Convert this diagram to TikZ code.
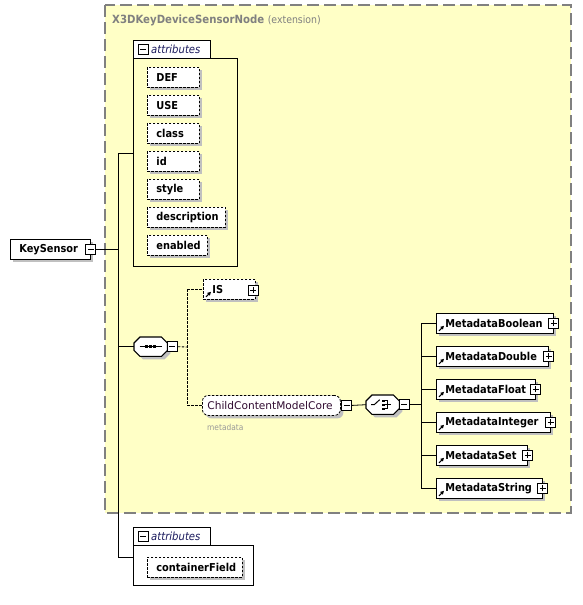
\documentclass[tikz,border=0pt]{standalone}
\usepackage{fontspec}
\setmainfont{DejaVu Sans Condensed}
\newfontfamily\xswide{DejaVu Sans}
\usetikzlibrary{shadows,arrows.meta}

\definecolor{extfill}{HTML}{FFFFC6}
\definecolor{extline}{HTML}{808080}
\definecolor{shadowc}{HTML}{C0C0C0}
\definecolor{navyc}{HTML}{1B1B5E}
\definecolor{grpc}{HTML}{300A30}
\definecolor{graytxt}{HTML}{999999}

\newcommand\xsOct[1]{%
  \fill[shadowc] ([shift={(9,3)}]#1.north west) -- ([shift={(-3,3)}]#1.north east) -- ([shift={(3,9)}]#1.north east) -- ([shift={(3,-3)}]#1.south east) -- ([shift={(-3,3)}]#1.south east) -- ([shift={(9,3)}]#1.south west) -- ([shift={(3,-3)}]#1.south west) -- ([shift={(3,9)}]#1.north west) -- cycle;
  \draw[line width=1.1pt, fill=white] ([shift={(6,0)}]#1.north west) -- ([shift={(-6,0)}]#1.north east) -- ([shift={(0,6)}]#1.north east) -- ([shift={(0,-6)}]#1.south east) -- ([shift={(-6,0)}]#1.south east) -- ([shift={(6,0)}]#1.south west) -- ([shift={(0,-6)}]#1.south west) -- ([shift={(0,6)}]#1.north west) -- cycle;}

\newcommand\xsRef[1]{%
  \draw[line width=1pt, -{Triangle[length=3.5pt,width=3.5pt]}] ([shift={(3,-3)}]#1.south west) -- ++(5,-5);}

\tikzset{
  x=1pt, y=-1pt,
  lbl/.style={font=\fontsize{10.9}{13}\selectfont},
  shad/.style={general shadow={fill=shadowc, shadow xshift=3pt, shadow yshift=-3pt}},
  elem/.style={draw, line width=0.8pt, fill=white, shad, anchor=north west,
    minimum height=20pt, inner ysep=0pt, inner xsep=9pt, align=left,
    font=\fontsize{10.9}{13}\selectfont\bfseries},
  attr/.style={elem, dash pattern=on 2.5pt off 1.5pt},
  mbox/.style={draw, line width=0.7pt, fill=white, minimum size=10pt, inner sep=0pt,
    path picture={\draw[line width=0.7pt] ([xshift=2pt]path picture bounding box.west) -- ([xshift=-2pt]path picture bounding box.east);}},
  pbox/.style={draw, line width=0.7pt, fill=white, minimum size=10pt, inner sep=0pt,
    path picture={\draw[line width=0.7pt] ([xshift=2pt]path picture bounding box.west) -- ([xshift=-2pt]path picture bounding box.east);
      \draw[line width=0.7pt] ([yshift=2pt]path picture bounding box.south) -- ([yshift=-2pt]path picture bounding box.north);}},
  conn/.style={line width=0.8pt},
  dconn/.style={line width=0.8pt, dash pattern=on 2.5pt off 1.5pt},
  comp/.style={anchor=north west, inner sep=0pt, minimum height=19pt},
  attrgrp/.style={line width=0.8pt},
  tabtxt/.style={anchor=west, inner sep=0pt, text=navyc, font=\fontsize{11.2}{13}\selectfont\itshape},
}

\begin{document}
\begin{tikzpicture}
\useasboundingbox (0,0) rectangle (582,605);
\fill[white] (0,0) rectangle (582,605);

% extension box
\draw[extline, fill=extfill, line width=1.2pt, dash pattern=on 12pt off 5pt] (105,5) rectangle (571,513);
\node[anchor=base west, inner sep=0pt, text=extline, font=\fontsize{11.3}{13}\selectfont] (title) at (112,23.5) {\bfseries X3DKeyDeviceSensorNode \mdseries\fontsize{10.4}{13}\selectfont(extension)};

% attributes group 1
\draw[attrgrp, fill=white] (133,40) rectangle (210,58);
\draw[attrgrp] (133,40) -- (210,40) -- (210,58) -- (237,58) -- (237,266) -- (133,266) -- cycle;
\node[mbox] (a1m) at (143,49) {};
\node[tabtxt] (a1t) at (151,49) {attributes};
\coordinate (att1) at (133,153);

\node[attr, text width=34pt] (def) at (147,67) {DEF};
\node[attr, text width=34pt] (use) at (147,95) {USE};
\node[attr, text width=34pt] (cls) at (147,123) {class};
\node[attr, text width=34pt] (idn) at (147,151) {id};
\node[attr, text width=34pt] (sty) at (147,179) {style};
\node[attr, text width=60pt] (dsc) at (147,207) {description};
\node[attr, text width=42pt] (enb) at (147,235) {enabled};

% KeySensor
\node[elem, text width=62pt] (ks) at (10,239) {KeySensor};
\node[mbox] (ksm) at (ks.east) {};

\coordinate (t1) at (118,153);
\coordinate (t2) at (118,557);
\draw[conn] (ksm.east) -- (ksm.east -| t1);
\draw[conn] (t1) -- (t2);
\draw[conn] (t1) -- (att1);

% sequence compositor
\node[comp, minimum width=33pt] (seq) at (134,337) {};
\xsOct{seq}
\draw[line width=1pt] ([xshift=-11pt]seq.center) -- ([xshift=11pt]seq.center);
\foreach \dx in {-4,0,4} \fill ([shift={(\dx-1.3,-1.3)}]seq.center) rectangle ([shift={(\dx+1.3,1.3)}]seq.center);
\node[mbox] (seqm) at ([xshift=5pt]seq.east) {};
\draw[conn] (seq.west -| t1) -- (seq.west);

\coordinate (d0) at (187,347);
\coordinate (d1) at (187,289);
\coordinate (d2) at (187,405);
\draw[dconn] (seqm.east) -- (d0);
\draw[dconn] (d1) -- (d2);

% IS
\node[attr, text width=34pt] (is) at (203,279) {IS};
\node[pbox] (ism) at (253,290) {};
\xsRef{is}
\draw[dconn] (d1) -- (is.west |- d1);

% ChildContentModelCore
\node[draw, line width=0.8pt, dash pattern=on 2.5pt off 1.5pt, rounded corners=6pt, fill=white, shad,
      anchor=north west, minimum height=20pt, minimum width=138pt, inner xsep=5pt, inner ysep=0pt,
      text width=128pt, align=left, text=grpc, font=\xswide\fontsize{10.6}{13}\selectfont] (ccm) at (202,395) {ChildContentModelCore};
\node[mbox] (ccmm) at ([xshift=6pt]ccm.east) {};
\node[anchor=base west, inner sep=0pt, text=graytxt, font=\fontsize{8.3}{10}\selectfont] (mdl) at (207,430) {metadata};
\draw[dconn] (d2) -- (ccm.west |- d2);

% choice compositor
\node[comp, minimum width=33pt] (ch) at (366,395) {};
\xsOct{ch}
\draw[line width=1pt] ([xshift=-11.5pt]ch.center) -- ([xshift=-8.5pt]ch.center) -- ([shift={(-3,-5)}]ch.center);
\foreach \dy in {-4,0,4} \fill ([shift={(-0.5,\dy-1.2)}]ch.center) rectangle ([shift={(1.9,\dy+1.2)}]ch.center);
\draw[line width=0.9pt] ([shift={(1.9,-4)}]ch.center) -- ([shift={(4.5,-4)}]ch.center) -- ([shift={(4.5,4)}]ch.center) -- ([shift={(1.9,4)}]ch.center);
\draw[line width=0.9pt] ([shift={(1.9,0)}]ch.center) -- ([shift={(8.5,0)}]ch.center);
\node[mbox] (chm) at ([xshift=5pt]ch.east) {};
\draw[conn] (ccmm.east) -- (ch.west);

\coordinate (c1) at (421,323);
\coordinate (c2) at (421,488);
\draw[conn] (chm.east) -- (chm.east -| c1);
\draw[conn] (c1) -- (c2);

% metadata elements
\node[elem, text width=99pt] (mb) at (436,313) {MetadataBoolean};
\node[elem, text width=94pt] (md) at (436,346) {MetadataDouble};
\node[elem, text width=81pt] (mf) at (436,379) {MetadataFloat};
\node[elem, text width=96pt] (mi) at (436,412) {MetadataInteger};
\node[elem, text width=73pt] (ms) at (436,445) {MetadataSet};
\node[elem, text width=88pt] (mt) at (436,478) {MetadataString};
\foreach \n in {mb,md,mf,mi,ms,mt} {
  \node[pbox] (\n p) at (\n.east) {};
  \xsRef{\n}
  \draw[conn] (\n.west -| c1) -- (\n.west);
}

% attributes group 2
\draw[attrgrp, fill=white] (133,527) rectangle (210,545);
\draw[attrgrp] (133,527) -- (210,527) -- (210,545) -- (253,545) -- (253,585) -- (133,585) -- cycle;
\node[mbox] (a2m) at (143,536) {};
\node[tabtxt] (a2t) at (151,536) {attributes};
\coordinate (att2) at (133,557);
\draw[conn] (t2) -- (att2);
\node[attr, text width=77pt] (cf) at (147,557) {containerField};
\end{tikzpicture}
\end{document}
